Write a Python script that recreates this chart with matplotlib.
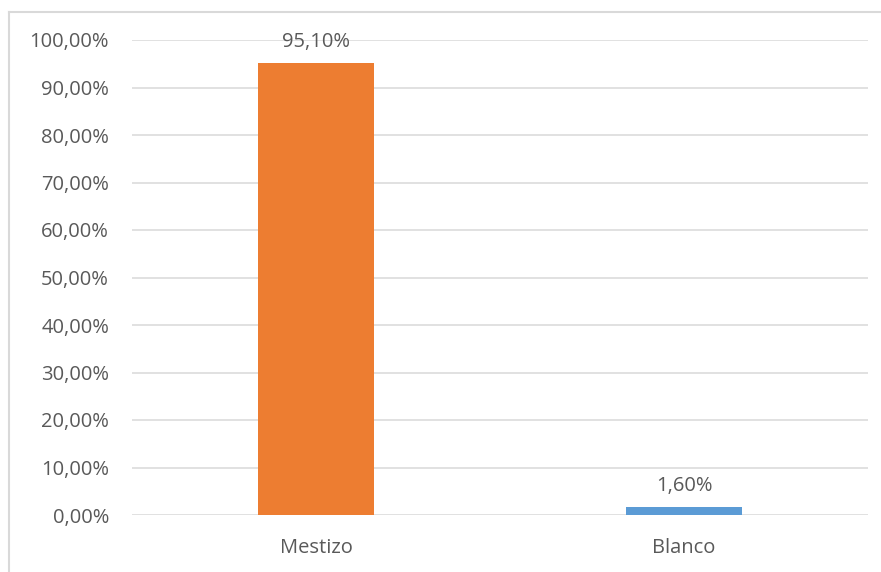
import matplotlib.pyplot as plt
from matplotlib.lines import Line2D

categories = ["Mestizo", "Blanco"]
values = [95.10, 1.60]
bar_colors = ["#ED7D31", "#5B9BD5"]
yticks = [0, 10, 20, 30, 40, 50, 60, 70, 80, 90, 100]

plt.rcParams['font.family'] = ['Open Sans', 'DejaVu Sans']
text_color = "#595959"
grid_color = "#D9D9D9"

W, H = 881, 572
fig = plt.figure(figsize=(W / 100, H / 100), dpi=100)
ax = fig.add_axes([132 / W, (H - 515) / H, (868 - 132) / W, (515 - 40) / H])

x = range(len(categories))
bars = ax.bar(x, values, width=0.316, color=bar_colors, zorder=3)

ax.set_xlim(-0.5, 1.5)
ax.set_ylim(0, 100)
ax.set_yticks(yticks)
ax.set_yticklabels([f"{v:.2f}%".replace(".", ",") for v in yticks])
ax.set_xticks(list(x))
ax.set_xticklabels(categories)

ax.grid(axis='y', color=grid_color, linewidth=1.1, zorder=0)
for s in ax.spines.values():
    s.set_visible(False)
ax.tick_params(axis='both', length=0, labelsize=14.5, labelcolor=text_color)
ax.tick_params(axis='y', pad=16.5)
ax.tick_params(axis='x', pad=16.5)

for b, v in zip(bars, values):
    ax.annotate(f"{v:.2f}%".replace(".", ","),
                (b.get_x() + b.get_width() / 2, b.get_height()),
                xytext=(0, 12), textcoords='offset points',
                ha='center', va='baseline', fontsize=14.5, color=text_color)

# outer chart frame (only left and top edges visible in the crop)
fig.add_artist(Line2D([8.5 / W, 8.5 / W], [0, (H - 12) / H], color=grid_color, lw=1.5, transform=fig.transFigure))
fig.add_artist(Line2D([8.5 / W, 1], [(H - 12) / H, (H - 12) / H], color=grid_color, lw=1.5, transform=fig.transFigure))

fig.savefig("out.png", dpi=100)
